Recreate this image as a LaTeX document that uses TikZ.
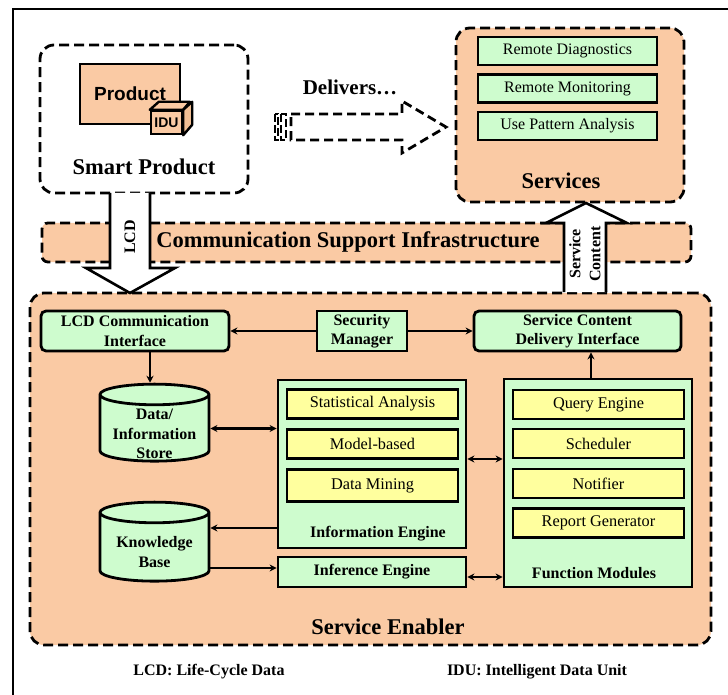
\documentclass[tikz,border=0pt]{standalone}
\usepackage{fontspec}
\setmainfont{Liberation Serif}
\newfontfamily\arialfont{Liberation Sans}
\usepackage{xcolor}
\usepackage{tikz}
\usetikzlibrary{arrows.meta, positioning, calc, shapes.geometric}

\definecolor{peach}{RGB}{250,202,164}
\definecolor{mint}{RGB}{206,252,206}
\definecolor{lemon}{RGB}{255,255,158}

\begin{document}
\begin{tikzpicture}[x=1pt, y=-1pt,
  arrow/.style={-{Stealth[length=7pt, width=7pt]}, line width=2.6pt},
  dblarrow/.style={{Stealth[length=7pt, width=7pt]}-{Stealth[length=7pt, width=7pt]}, line width=2.6pt},
  dash_box/.style={draw, dash pattern=on 10pt off 5pt, line width=2.8pt, rounded corners=14pt, inner sep=0pt},
  green_box/.style={draw, rectangle, fill=mint, line width=2.8pt, inner sep=0pt, align=center, font=\bfseries\fontsize{16}{19.5}\selectfont},
  item_box/.style={draw, rectangle, fill=lemon, line width=2.8pt, inner sep=0pt, minimum height=29pt, font=\fontsize{16.3}{18}\selectfont},
  svc_box/.style={draw, rectangle, fill=mint, line width=2.8pt, inner sep=0pt, minimum width=179pt, minimum height=28pt, font=\fontsize{16}{18}\selectfont},
  store_box/.style={cylinder, draw, shape border rotate=90, aspect=0.24, fill=mint, line width=2.8pt, inner sep=0pt, minimum width=109pt},
  store_text/.style={align=center, font=\bfseries\fontsize{16}{19.5}\selectfont},
  title/.style={font=\bfseries\fontsize{22.5}{24}\selectfont},
  label/.style={font=\bfseries\fontsize{16}{18}\selectfont}
]
  \useasboundingbox (0,0) rectangle (728,695);

  % frame
  \draw[line width=2.2pt] (13,695) -- (13,9) -- (728,9);

  % Smart Product
  \node (smart) [dash_box, fill=white, minimum width=208pt, minimum height=148pt] at (144, 119) {};
  \node (product) [draw, fill=peach, line width=2.4pt, minimum width=100pt, minimum height=60pt, font=\arialfont\bfseries\fontsize{19}{20}\selectfont] at (130, 94) {Product};
  \node (idu) [draw, fill=peach, line width=2.4pt, inner sep=0pt, minimum width=31pt, minimum height=23pt, font=\arialfont\bfseries\fontsize{14}{15}\selectfont] at (166.5, 122.5) {IDU};
  \draw[fill=peach, line width=2.4pt, line join=round] (idu.north west) -- ++(9,-8) -- ++(31,0) -- (idu.north east) -- cycle;
  \draw[fill=peach!85!brown, line width=2.4pt, line join=round] (idu.north east) -- ++(9,-8) -- ++(0,23) -- (idu.south east) -- cycle;
  \node[title] at (144, 167) {Smart Product};

  % Delivers
  \node (delivers) [font=\bfseries\fontsize{21}{22}\selectfont] at (350, 87) {Delivers\dots};
  \draw[dash pattern=on 9pt off 5pt, line width=2.8pt]
    (291,114) -- (402,114) -- (402,101) -- (446,127) -- (402,153) -- (402,140) -- (291,140) -- cycle;
  \draw[dash pattern=on 8pt off 3pt, line width=2.2pt] (275,114) rectangle (278,140);
  \draw[dash pattern=on 8pt off 3pt, line width=2.2pt] (281,114) rectangle (286,140);

  % Services
  \node (services) [dash_box, fill=peach, minimum width=228pt, minimum height=174pt] at (570, 115) {};
  \node (diag) [svc_box] at (567.5, 51) {Remote Diagnostics};
  \node (monit) [svc_box] at (567.5, 88.5) {Remote Monitoring};
  \node (usepat) [svc_box] at (567.5, 126) {Use Pattern Analysis};
  \node[title] at (561, 181) {Services};

  % Communication band
  \node (comm) [dash_box, rounded corners=6pt, fill=peach, minimum width=649pt, minimum height=39pt] at (366.5, 242.5) {};
  \node[title] at (348, 242) {Communication Support Infrastructure};

  % Service Enabler
  \node (enabler) [dash_box, fill=peach, minimum width=681pt, minimum height=352pt] at (370.5, 469) {};
  \node[title] at (388, 627) {Service Enabler};

  % block arrows
  \draw[fill=white, line width=2.6pt, line join=miter]
    (110,193) -- (110,268) -- (86,268) -- (130,293) -- (175,268) -- (150,268) -- (150,193);
  \node[label, rotate=90] at (130, 237) {LCD};
  \draw[fill=white, line width=2.6pt, line join=miter]
    (564,292) -- (564,223) -- (546,223) -- (586,203) -- (627,223) -- (606,223) -- (606,292);
  \node[label, rotate=90, align=center, font=\bfseries\fontsize{16}{20}\selectfont] at (585, 254) {Service\\Content};

  % Interfaces
  \node (lcdif) [green_box, rounded corners=5pt, minimum width=188pt, minimum height=40pt] at (135, 331) {LCD Communication\\Interface};
  \node (secmgr) [green_box, minimum width=90pt, minimum height=40pt] at (362, 331) {Security\\Manager};
  \node (scdi) [green_box, rounded corners=5pt, minimum width=207pt, minimum height=40pt] at (577.5, 331) {Service Content\\Delivery Interface};

  % Stores
  \node (store) [store_box, minimum height=77pt] at (154.5, 428.5) {\rule{86pt}{0pt}};
  \node[store_text] at (154.5, 434) {Data/\\Information\\Store};
  \node (kb) [store_box, minimum height=79pt] at (154.5, 547.5) {\rule{86pt}{0pt}};
  \node[store_text] at (154.5, 552) {Knowledge\\Base};

  % Information Engine
  \node (infoeng) [green_box, minimum width=188pt, minimum height=168pt] at (372, 464) {};
  \node (stat) [item_box, minimum width=171pt] at (372.5, 404) {Statistical Analysis};
  \node (model) [item_box, minimum width=171pt] at (372.5, 444) {Model-based};
  \node (mining) [item_box, minimum width=171pt, minimum height=32pt] at (372.5, 485.5) {Data Mining};
  \node[label] at (378, 534) {Information Engine};
  \node (infer) [green_box, minimum width=188pt, minimum height=30pt] at (372, 572) {Inference Engine};

  % Function Modules
  \node (funcmod) [green_box, minimum width=188pt, minimum height=208pt] at (598, 483) {};
  \node (query) [item_box, minimum width=171pt] at (598.5, 404.5) {Query Engine};
  \node (sched) [item_box, minimum width=171pt] at (598.5, 443.5) {Scheduler};
  \node (notif) [item_box, minimum width=171pt] at (598.5, 483.5) {Notifier};
  \node (report) [item_box, minimum width=171pt] at (598.5, 523) {Report Generator};
  \node[label] at (594, 573) {Function Modules};

  % Connections
  \draw[arrow] (secmgr.west) -- (lcdif.east);
  \draw[arrow] (secmgr.east) -- (scdi.west);
  \draw[arrow] (lcdif.south -| 150,0) -- (store.north -| 150,0);
  \draw[dblarrow] (store.east) -- (store.east -| infoeng.west);
  \draw[arrow] (infoeng.west |- 0,528) -- (kb.east |- 0,528);
  \draw[arrow] (kb.east |- 0,568) -- (infer.west |- 0,568);
  \draw[dblarrow] (infoeng.east |- 0,459) -- (funcmod.west |- 0,459);
  \draw[dblarrow] (infer.east |- 0,577) -- (funcmod.west |- 0,577);
  \draw[arrow] (funcmod.north -| 591,0) -- (scdi.south -| 591,0);

  % Legend
  \node[label] at (209, 672) {LCD: Life-Cycle Data};
  \node[label] at (537, 672) {IDU: Intelligent Data Unit};

\end{tikzpicture}
\end{document}
